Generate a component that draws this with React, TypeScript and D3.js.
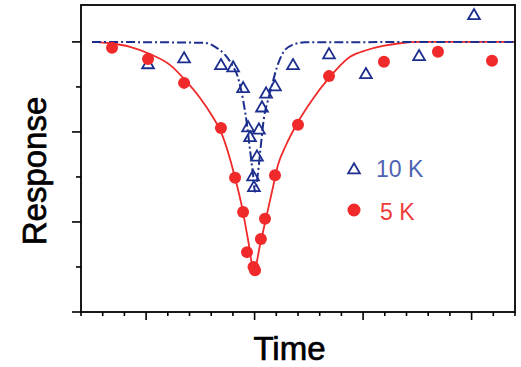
import React, { useEffect, useRef } from 'react';
import * as d3 from 'd3';

// 5 K measured points (time, response)
const redX = [-6.57, -4.91, -3.25, -1.55, -0.9, -0.53, -0.35, -0.05, 0.02, 0.29, 0.48, 0.94, 2.0, 3.43, 5.96, 8.45, 10.94];
const redY = [5.87, 5.62, 5.09, 4.09, 2.98, 2.22, 1.33, 1.0, 0.93, 1.62, 2.07, 3.04, 4.16, 5.24, 5.56, 5.78, 5.58];

// 10 K measured points
const blueX = [-4.91, -3.25, -1.55, -0.99, -0.53, -0.3, -0.21, 0.2, 0.34, 0.53, 0.94, 0.11, -0.07, -0.03, 1.77, 3.43, 5.13, 7.58, 10.11];
const blueY = [5.49, 5.62, 5.47, 5.42, 4.96, 4.09, 3.87, 4.04, 4.53, 4.84, 5.0, 3.44, 3.0, 2.76, 5.47, 5.71, 5.27, 5.67, 6.58];

// fitted curves
const redFitX = [-7.49, -6.66, -5.74, -4.82, -3.9, -3.25, -2.52, -1.96, -1.55, -1.23, -0.9, -0.58, -0.3, -0.03, 0.25, 0.53, 0.8, 1.08, 1.45, 2.0, 2.65, 3.43, 4.4, 5.18, 5.92, 6.7, 7.62, 12];
const redFitY = [6.0, 5.97, 5.89, 5.73, 5.49, 5.18, 4.76, 4.36, 4.0, 3.56, 2.98, 2.33, 1.6, 0.91, 1.49, 2.09, 2.67, 3.27, 3.71, 4.22, 4.71, 5.2, 5.67, 5.82, 5.91, 5.97, 6.0, 6.0];

const blueFitX = [-7.49, -2.29, -1.82, -1.36, -1.04, -0.76, -0.53, -0.35, -0.21, -0.07, 0.02, 0.16, 0.29, 0.43, 0.62, 0.8, 1.03, 1.31, 1.72, 2.32, 12];
const blueFitY = [6.0, 5.98, 5.89, 5.71, 5.49, 5.2, 4.71, 4.16, 3.6, 3.04, 2.67, 3.11, 3.71, 4.31, 4.71, 5.04, 5.44, 5.76, 5.93, 5.99, 6.0];

const seriesNames = ['10 K', '5 K'];

const RED = '#f02a2a';
const BLUE = '#1c2e8e';

export default function App() {
  const svgRef = useRef<SVGSVGElement>(null);

  useEffect(() => {
    const width = 521;
    const height = 367;
    const margin = { top: 5, right: 6, bottom: 55, left: 81 };
    const svg = d3.select(svgRef.current);
    svg.selectAll('*').remove();

    const x = d3.scaleLinear().domain([-8, 12]).range([margin.left, width - margin.right]);
    const y = d3.scaleLinear().domain([0, 6.82]).range([height - margin.bottom, margin.top]);

    const g = svg.append('g');

    // fitted lines
    const line = d3.line<[number, number]>()
      .x(d => x(d[0]))
      .y(d => y(d[1]))
      .curve(d3.curveMonotoneX);

    g.append('path')
      .datum(redFitX.map((v, i) => [v, redFitY[i]] as [number, number]))
      .attr('d', line)
      .attr('fill', 'none')
      .attr('stroke', RED)
      .attr('stroke-width', 1.8);

    g.append('path')
      .datum(blueFitX.map((v, i) => [v, blueFitY[i]] as [number, number]))
      .attr('d', line)
      .attr('fill', 'none')
      .attr('stroke', BLUE)
      .attr('stroke-width', 2)
      .attr('stroke-dasharray', '9,3,2,3');

    // triangles
    const tri = d3.symbol().type(d3.symbolTriangle).size(60);
    g.selectAll('.tri')
      .data(blueX.map((v, i) => [v, blueY[i]]))
      .enter()
      .append('path')
      .attr('d', tri)
      .attr('transform', d => `translate(${x(d[0])},${y(d[1])})`)
      .attr('fill', 'none')
      .attr('stroke', BLUE)
      .attr('stroke-width', 1.8);

    // circles
    g.selectAll('.dot')
      .data(redX.map((v, i) => [v, redY[i]]))
      .enter()
      .append('circle')
      .attr('cx', d => x(d[0]))
      .attr('cy', d => y(d[1]))
      .attr('r', 6)
      .attr('fill', RED);

    // axes with outward ticks, no labels
    const xMajor = [-5, 0, 5, 10];
    const xMinor = d3.range(-8, 13).filter(v => !xMajor.includes(v));
    const yMajor = [0, 2, 4, 6];
    const yMinor = [1, 3, 5];

    const bottom = y(0);
    const axisG = svg.append('g').attr('stroke', '#000').attr('stroke-width', 1.6);
    xMajor.forEach(v => axisG.append('line').attr('x1', x(v)).attr('x2', x(v)).attr('y1', bottom).attr('y2', bottom + 8));
    xMinor.forEach(v => axisG.append('line').attr('x1', x(v)).attr('x2', x(v)).attr('y1', bottom).attr('y2', bottom + 4));
    yMajor.forEach(v => axisG.append('line').attr('x1', margin.left - 9).attr('x2', margin.left).attr('y1', y(v)).attr('y2', y(v)));
    yMinor.forEach(v => axisG.append('line').attr('x1', margin.left - 5).attr('x2', margin.left).attr('y1', y(v)).attr('y2', y(v)));

    // frame
    svg.append('rect')
      .attr('x', margin.left)
      .attr('y', margin.top)
      .attr('width', width - margin.left - margin.right)
      .attr('height', height - margin.top - margin.bottom)
      .attr('fill', 'none')
      .attr('stroke', '#000')
      .attr('stroke-width', 1.8);

    // legend
    const legend = svg.append('g');
    legend.append('path')
      .attr('d', tri)
      .attr('transform', 'translate(354,170)')
      .attr('fill', 'none')
      .attr('stroke', BLUE)
      .attr('stroke-width', 1.8);
    legend.append('text')
      .attr('x', 376)
      .attr('y', 177)
      .attr('font-size', 23)
      .attr('fill', '#4d63b3')
      .text(seriesNames[0]);
    legend.append('circle')
      .attr('cx', 354)
      .attr('cy', 210)
      .attr('r', 6.5)
      .attr('fill', RED);
    legend.append('text')
      .attr('x', 380)
      .attr('y', 220)
      .attr('font-size', 23)
      .attr('fill', '#ef3b3b')
      .text(seriesNames[1]);

    // axis titles
    svg.append('text')
      .attr('x', 289.5)
      .attr('y', 360)
      .attr('text-anchor', 'middle')
      .attr('font-size', 33)
      .attr('fill', '#000')
      .attr('stroke', '#000')
      .attr('stroke-width', 0.7)
      .text('Time');

    svg.append('text')
      .attr('transform', 'translate(46,171) rotate(-90)')
      .attr('text-anchor', 'middle')
      .attr('font-size', 33)
      .attr('fill', '#000')
      .attr('stroke', '#000')
      .attr('stroke-width', 0.7)
      .text('Response');
  }, []);

  return (
    <svg
      ref={svgRef}
      width={521}
      height={367}
      style={{ position: 'absolute', left: 0, top: 0, background: '#fff', fontFamily: '"Liberation Sans", Arial, sans-serif' }}
    />
  );
}
